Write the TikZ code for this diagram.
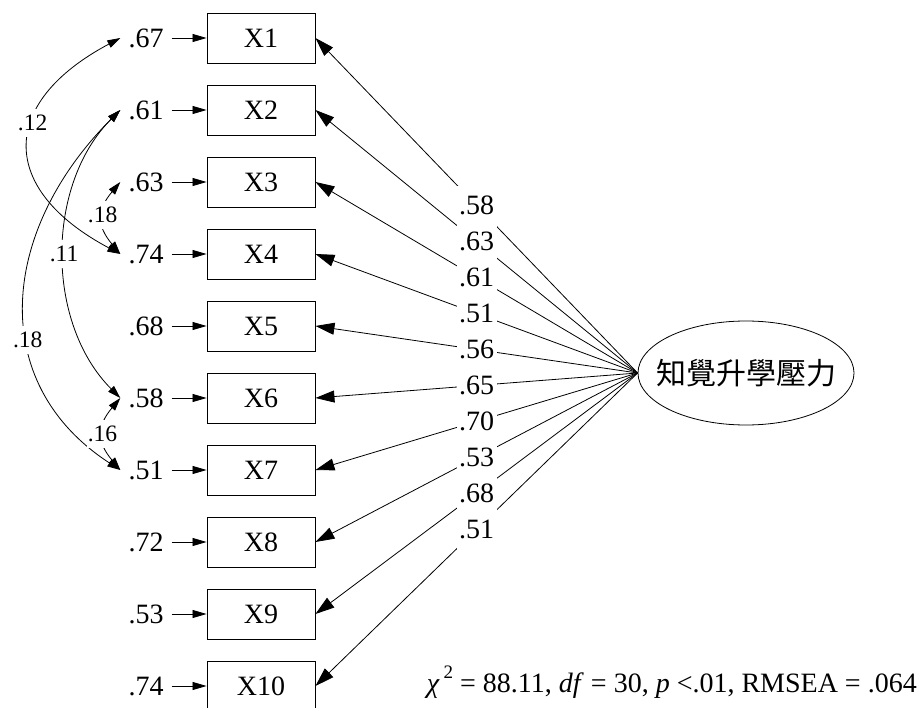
\documentclass[tikz,border=0pt]{standalone}
\usepackage{fontspec}
\setmainfont{Liberation Serif}
\newfontfamily\cjkfont{Noto Sans CJK TC}
\usetikzlibrary{arrows.meta,calc,shapes.geometric}
\begin{document}
\begin{tikzpicture}[x=1pt,y=1pt,
  obs/.style={draw,line width=0.9pt,minimum width=108pt,minimum height=50pt,inner sep=0pt,font=\fontsize{28}{30}\selectfont},
  err/.style={inner xsep=8pt,inner ysep=0pt,font=\fontsize{28}{30}\selectfont},
  lat/.style={draw,ellipse,line width=0.8pt,minimum width=216pt,minimum height=104pt,inner sep=0pt,font=\cjkfont\fontsize{30}{32}\selectfont},
  eline/.style={line width=0.8pt,-{Triangle[length=14pt,width=8pt]}},
  lline/.style={line width=0.8pt,-{Triangle[length=19pt,width=12pt]}},
  cov/.style={line width=0.8pt,{Triangle[length=13pt,width=8pt]}-{Triangle[length=13pt,width=8pt]}},
  lab/.style={fill=white,inner sep=0pt,minimum width=40pt,minimum height=38pt,font=\fontsize{28}{30}\selectfont},
  clab/.style={fill=white,inner xsep=1pt,inner ysep=6pt,font=\fontsize{23.5}{25}\selectfont}
]
\useasboundingbox (0,0) rectangle (919,-708);
\foreach \i/\e in {1/.67,2/.61,3/.63,4/.74,5/.68,6/.58,7/.51,8/.72,9/.53,10/.74} {
  \node[obs] (X\i) at (261,{-38-72*(\i-1)}) {X\i};
  \node[err] (e\i) at (146,{-38-72*(\i-1)}) {\e};
  \draw[eline] (e\i.east) -- (X\i.west);
}
\node[lat] (F) at (746,-373) {\makebox[0pt]{知覺升學壓力}};
\foreach \i in {1,...,10} {
  \draw[lline] (F.west) -- (X\i.east);
}
\foreach \i/\l in {1/.58,2/.63,3/.61,4/.51,5/.56,6/.65,7/.70,8/.53,9/.68,10/.51} {
  \node[lab] (L\i) at ($(F.west)!0.5!(X\i.east)$) {\l};
}
\draw[cov] (e1.west) to[out=208,in=152,out distance=138pt,in distance=138pt] node[clab,pos=0.4] (c14) {.12} (e4.west);
\draw[cov] (e3.west) to[out=230,in=130,distance=37pt] node[clab,pos=0.45] (c34) {.18} (e4.west);
\draw[cov] (e2.west) to[out=225,in=135,distance=106pt] node[clab,pos=0.5] (c26) {.11} (e6.west);
\draw[cov] (e2.west) to[out=225,in=147,out distance=170pt,in distance=160pt] node[clab,pos=0.6] (c27) {.18} (e7.west);
\draw[cov] (e6.west) to[out=230,in=130,distance=37pt] node[clab,pos=0.5] (c67) {.16} (e7.west);
\node[anchor=base east,inner sep=0pt,font=\fontsize{28}{30}\selectfont] (fit) at (917,-692)
  {\textit{χ}\kern4pt\raisebox{14pt}{\fontsize{19}{19}\selectfont 2} = 88.11, \textit{df} = 30, \textit{p} <.01, RMSEA = .064};
\end{tikzpicture}
\end{document}
